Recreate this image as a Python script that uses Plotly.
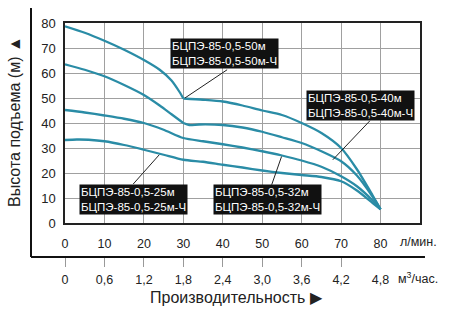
import plotly.graph_objects as go

# ---- data ----
q_lpm_ticks = [0, 10, 20, 30, 40, 50, 60, 70, 80]
q_m3_ticks = [0, 0.6, 1.2, 1.8, 2.4, 3.0, 3.6, 4.2, 4.8]
q_m3_labels = ["0", "0,6", "1,2", "1,8", "2,4", "3,0", "3,6", "4,2", "4,8"]
q_m3_tickmarks = [0, 0.6, 1.2, 1.8, 2.4, 3.0, 3.6, 4.2]
head_ticks = [0, 10, 20, 30, 40, 50, 60, 70, 80]

# curve БЦПЭ-85-0,5-50м (two branches meeting at 30 л/мин)
c50_q1 = [0, 5, 10, 15, 20, 24, 27, 29, 30]
c50_h1 = [78.7, 76.1, 72.9, 69.3, 65.2, 61.3, 57.0, 52.5, 49.8]
c50_q2 = [30, 35, 40, 45, 50, 55, 60, 65, 70, 74, 78, 80]
c50_h2 = [49.8, 49.3, 48.6, 47.0, 45.0, 43.2, 40.0, 36.0, 30.0, 21.5, 11.0, 5.5]

# curve БЦПЭ-85-0,5-40м
c40_q1 = [0, 5, 10, 15, 20, 24, 27, 30]
c40_h1 = [63.5, 61.3, 58.7, 55.2, 51.2, 47.0, 43.5, 40.0]
c40_q2 = [30, 31.5, 34, 40, 45, 50, 55, 60, 65, 70, 74, 78, 80]
c40_h2 = [40.0, 39.2, 39.4, 39.2, 38.2, 36.5, 34.3, 32.0, 28.7, 24.7, 19.0, 10.5, 5.5]

# curve БЦПЭ-85-0,5-32м
c32_q = [0, 5, 10, 15, 20, 25, 30, 35, 40, 45, 50, 55, 60, 65, 70, 74, 78, 80]
c32_h = [45.2, 44.2, 43.0, 41.7, 40.0, 37.3, 34.0, 32.7, 31.5, 30.2, 28.7, 27.0, 25.0, 22.5, 18.7, 14.7, 9.0, 5.5]

# curve БЦПЭ-85-0,5-25м
c25_q = [0, 3, 6, 10, 15, 20, 25, 30, 35, 40, 45, 50, 55, 60, 65, 70, 74, 78, 80]
c25_h = [33.2, 33.4, 33.3, 32.7, 31.2, 29.3, 27.3, 25.3, 24.5, 23.3, 22.2, 21.0, 20.0, 19.2, 18.4, 16.7, 13.0, 8.0, 5.5]

labels = {
    "50": "БЦПЭ-85-0,5-50м<br>БЦПЭ-85-0,5-50м-Ч",
    "40": "БЦПЭ-85-0,5-40м<br>БЦПЭ-85-0,5-40м-Ч",
    "32": "БЦПЭ-85-0,5-32м<br>БЦПЭ-85-0,5-32м-Ч",
    "25": "БЦПЭ-85-0,5-25м<br>БЦПЭ-85-0,5-25м-Ч",
}

# ---- figure ----
LINE = "#2a8ca6"
FONT = "Arial, Liberation Sans, sans-serif"
TXT = "#222222"

fig = go.Figure()

def add_curve(qs, hs):
    fig.add_trace(go.Scatter(x=qs, y=hs, mode="lines", line=dict(color=LINE, width=2.3, shape="spline", smoothing=0.7),
                             showlegend=False, hoverinfo="skip"))

add_curve(c50_q1, c50_h1)
add_curve(c50_q2, c50_h2)
add_curve(c40_q1, c40_h1)
add_curve(c40_q2, c40_h2)
add_curve(c32_q, c32_h)
add_curve(c25_q, c25_h)

# invisible traces to bind secondary axes
fig.add_trace(go.Scatter(x=q_m3_ticks, y=[None] * len(q_m3_ticks), xaxis="x2", yaxis="y",
                         showlegend=False, hoverinfo="skip"))
fig.add_trace(go.Scatter(x=q_m3_tickmarks, y=[None] * len(q_m3_tickmarks), xaxis="x3", yaxis="y",
                         showlegend=False, hoverinfo="skip"))

ydom0 = 34 / 234

fig.update_layout(
    width=450, height=313,
    margin=dict(l=65, r=30, t=23, b=56),
    paper_bgcolor="white", plot_bgcolor="white",
    font=dict(family=FONT, color=TXT),
    xaxis=dict(range=[0, 90], tickvals=q_lpm_ticks, showgrid=True, gridcolor="#a0a0a0", gridwidth=1,
               showline=True, mirror=True, linecolor="#222", linewidth=1.5, zeroline=False,
               ticks="", tickfont=dict(size=12.5, color=TXT), ticklabelstandoff=8, anchor="y"),
    yaxis=dict(range=[0, 80], domain=[ydom0, 1], tickvals=head_ticks, showgrid=True, gridcolor="#a0a0a0",
               gridwidth=1, showline=True, mirror=True, linecolor="#222", linewidth=1.5, zeroline=False,
               ticks="", tickfont=dict(size=13, color=TXT), ticklabelstandoff=5),
    xaxis2=dict(range=[0, 5.4], overlaying="x", anchor="free", position=0, tickvals=q_m3_ticks,
                ticktext=q_m3_labels, ticks="outside", ticklen=11, tickcolor="rgba(0,0,0,0)",
                showgrid=False, showline=False, zeroline=False, tickfont=dict(size=12.5, color=TXT)),
    xaxis3=dict(range=[0, 5.4], overlaying="x", anchor="free", position=0, tickvals=q_m3_tickmarks,
                ticks="outside", ticklen=9, tickwidth=1, tickcolor="#999", showticklabels=False,
                showgrid=False, showline=False, zeroline=False),
)

# outer frame (left and bottom) in paper coordinates
fig.add_shape(type="line", xref="paper", yref="paper", x0=-0.0958, x1=-0.0958, y0=0, y1=1.064,
              line=dict(color="#111", width=2))
fig.add_shape(type="line", xref="paper", yref="paper", x0=-0.0958, x1=1.014, y0=0, y1=0,
              line=dict(color="#111", width=2))

# leader lines
for (x0, y0, x1, y1) in [(41.1, 61.3, 30.4, 50.0), (77.3, 40.9, 67.9, 25.3),
                         (52.4, 15.3, 54.9, 26.6), (17.3, 15.6, 23.9, 27.3)]:
    fig.add_shape(type="line", xref="x", yref="y", x0=x0, y0=y0, x1=x1, y1=y1,
                  line=dict(color="#222", width=1))

# model labels
for key, (lx, ly) in {"50": (40.4, 67.9), "40": (75.0, 47.1), "32": (51.3, 9.3), "25": (17.4, 9.5)}.items():
    fig.add_annotation(x=lx, y=ly, xref="x", yref="y", text=labels[key], showarrow=False,
                       align="left", bgcolor="#111", borderpad=1, xanchor="center", yanchor="middle",
                       font=dict(size=11.5, color="white", family=FONT))

# unit labels and titles
ann = dict(xref="paper", yref="paper", showarrow=False, xanchor="center", yanchor="middle")
fig.add_annotation(x=0.997, y=0.064, text="л/мин.", font=dict(size=12.5, color=TXT), **ann)
fig.add_annotation(x=0.994, y=-0.0897, text="м<sup>3</sup>/час.", font=dict(size=12.5, color=TXT), **ann)
fig.add_annotation(x=0.4845, y=-0.171, text="Производительность ▶", font=dict(size=16, color=TXT), **ann)
fig.add_annotation(x=-0.1408, y=0.577, text="Высота подъема (м) ▲", textangle=-90,
                   font=dict(size=16, color=TXT), **ann)

fig.write_html("out.html")
